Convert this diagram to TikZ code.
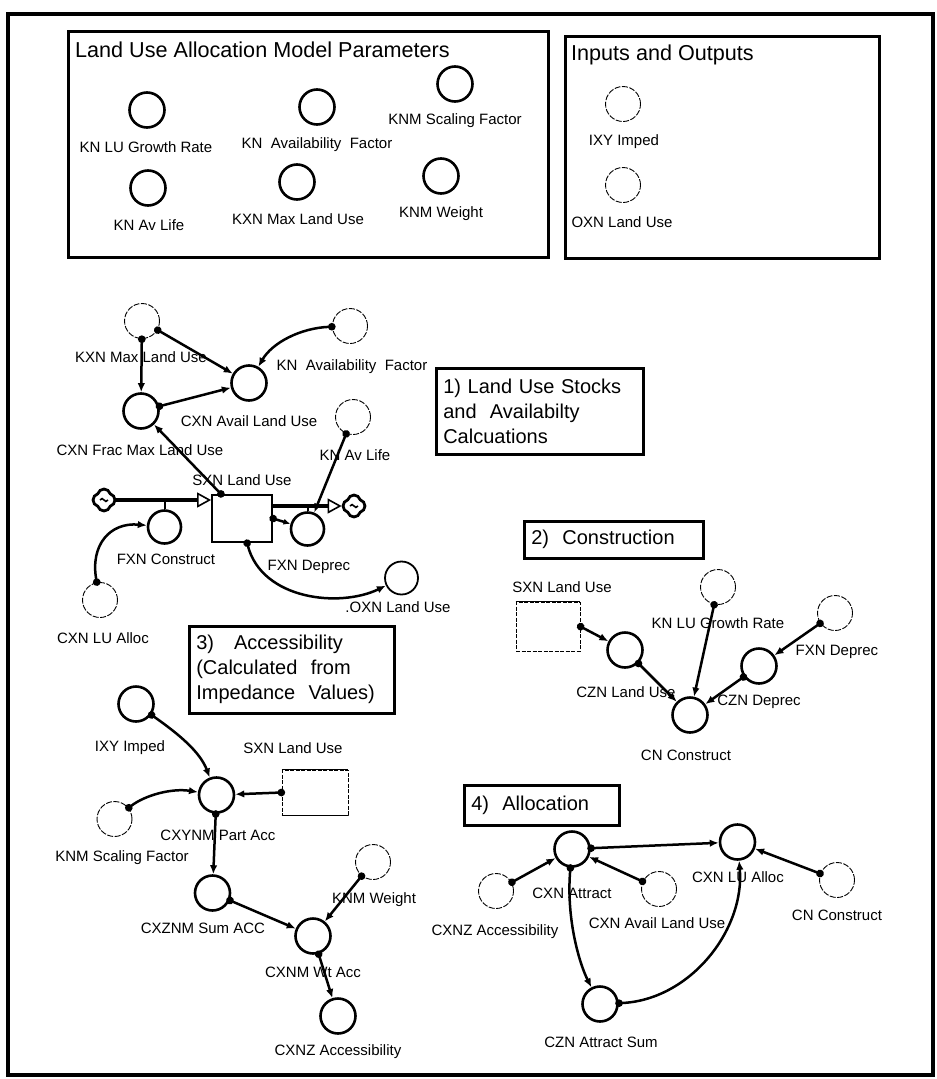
\documentclass[tikz,border=0pt]{standalone}
\usepackage{fontspec}
\setmainfont{Liberation Sans}
\usetikzlibrary{arrows.meta,shapes.symbols}
\begin{document}
\begin{tikzpicture}[x=1pt,y=-1pt,
 lbl/.style={inner sep=0pt, font=\fontsize{15}{18}\selectfont},
 hd/.style={inner sep=0pt, anchor=west, font=\fontsize{21.6}{25}\selectfont},
 aux/.style={circle, draw, line width=2.6pt, minimum size=35pt, inner sep=0pt},
 ghost/.style={circle, draw, line width=0.9pt, dash pattern=on 6pt off 1.5pt, minimum size=35pt, inner sep=0pt},
 link/.style={line width=2.5pt, shorten <=-3.5pt, {Circle[length=7.5pt]}-{Latex[length=9pt,width=7.5pt]}},
 panel/.style={draw, line width=3pt, anchor=north west, inner sep=0pt},
 secbox/.style={draw, line width=2.6pt, anchor=north west, align=left, inner sep=7pt, font=\fontsize{20}{25}\selectfont},
 stockbox/.style={draw, line width=1.8pt, inner sep=0pt},
 ghostbox/.style={draw, line width=0.8pt, dash pattern=on 4pt off 1.5pt, inner sep=0pt},
 pipe/.style={line width=4.5pt, -{Triangle[open, length=14pt, width=15pt, line width=1.6pt]}},
 cloudsym/.style={cloud, cloud puffs=4, aspect=1, shape border rotate=45, draw, line width=2.8pt, minimum width=22pt, minimum height=22pt, inner sep=0pt},
 swirl/.style={line width=1.6pt},
 stem/.style={line width=2pt}
]
\useasboundingbox (0,0) rectangle (937,1079);
\fill[white] (0,0) rectangle (937,1079);
% outer frame
\node[panel, line width=3.5pt, minimum width=925pt, minimum height=1061pt] (outer) at (6,12) {};

% ---------- Box A: parameters ----------
\node[panel, minimum width=480pt, minimum height=226pt] (boxA) at (67,30) {};
\node[hd] (tA) at (75,50) {Land Use Allocation Model Parameters};
\node[aux] (pkgr) at (147,110) {};
\node[lbl] (lpkgr) at (146,147) {KN LU Growth Rate};
\node[aux] (pkaf) at (317,107) {};
\node[lbl] (lpkaf) at (317,145) {KN\ \ Availability\ \ Factor};
\node[aux] (pkns) at (455,84) {};
\node[lbl] (lpkns) at (455,121) {KNM Scaling Factor};
\node[aux] (pkal) at (148,188) {};
\node[lbl] (lpkal) at (149,225) {KN Av Life};
\node[aux] (pkxm) at (297,182) {};
\node[lbl] (lpkxm) at (298,219) {KXN Max Land Use};
\node[aux] (pknw) at (441,176) {};
\node[lbl] (lpknw) at (441,214) {KNM Weight};

% ---------- Box B: inputs/outputs ----------
\node[panel, minimum width=314pt, minimum height=222pt] (boxB) at (564,35) {};
\node[hd] (tB) at (571,55) {Inputs and Outputs};
\node[ghost] (bixy) at (623,104) {};
\node[lbl] (lbixy) at (624,142) {IXY Imped};
\node[ghost] (boxn) at (623,185) {};
\node[lbl] (lboxn) at (622,222) {OXN Land Use};

% ---------- Section 1 ----------
\node[secbox, text width=193pt, minimum height=86pt] (box1) at (435,367)
  {1) Land Use Stocks\\and\ \ Availabilty\\Calcuations};
\node[ghost] (kxm1) at (142,321) {};
\node[lbl] (lkxm1) at (141,357) {KXN Max Land Use};
\node[ghost] (kaf1) at (350,326) {};
\node[lbl] (lkaf1) at (352,367) {KN\ \ Availability\ \ Factor};
\node[aux] (cav1) at (249,383) {};
\node[lbl] (lcav1) at (249,421) {CXN Avail Land Use};
\node[aux] (cfm1) at (141,411) {};
\node[lbl] (lcfm1) at (140,450) {CXN Frac Max Land Use};
\node[ghost] (kal1) at (353,417) {};
\node[lbl] (lkal1) at (355,455) {KN Av Life};
\node[stockbox, minimum width=60pt, minimum height=47pt] (stock1) at (242,518.5) {};
\node[lbl] (lstock1) at (242,480) {SXN Land Use};
\node[cloudsym] (cloudL) at (104,500) {};
\node[cloudsym] (cloudR) at (354,506) {};
\draw[swirl] ([xshift=-4pt]cloudL.center) .. controls ([xshift=-1pt,yshift=5pt]cloudL.center) and ([xshift=1pt,yshift=-5pt]cloudL.center) .. ([xshift=4pt]cloudL.center);
\draw[swirl] ([xshift=-4pt]cloudR.center) .. controls ([xshift=-1pt,yshift=5pt]cloudR.center) and ([xshift=1pt,yshift=-5pt]cloudR.center) .. ([xshift=4pt]cloudR.center);
\node[aux, minimum size=33pt] (fcon1) at (164.5,527) {};
\node[lbl] (lfcon1) at (166,559) {FXN Construct};
\node[aux, minimum size=33pt] (fdep1) at (307.5,529) {};
\node[lbl] (lfdep1) at (309,567) {FXN Deprec};
\node[aux, line width=1.8pt, minimum size=33pt] (oxn1) at (401.5,578) {};
\node[lbl] (loxn1) at (398,607) {.OXN Land Use};
\node[ghost] (cla1) at (100,600) {};
\node[lbl] (lcla1) at (103,638) {CXN LU Alloc};

\draw[pipe] (cloudL) -- (cloudL -| stock1.west);
\draw[pipe] (cloudR -| stock1.east) -- (cloudR);
\draw[stem] (fcon1.north) -- (fcon1.north |- cloudL);
\draw[stem] (fdep1.north) -- (fdep1.north |- cloudR);

\draw[link] (kxm1) -- (cfm1);
\draw[link] (kxm1) -- (cav1);
\draw[link] (kaf1) .. controls (300,328) and (272,343) .. (cav1);
\draw[link] (cfm1) -- (cav1);
\draw[link] ([xshift=10pt]stock1.north west) -- (cfm1);
\draw[link] (kal1) -- (fdep1);
\draw[link, {Circle[length=7.5pt]}-{Latex[length=7pt,width=6pt]}] (stock1.east) -- (fdep1);
\draw[link] ([xshift=36pt]stock1.south west) .. controls (262,600) and (340,608) .. (oxn1);
\draw[link] (cla1) .. controls (90,545) and (110,522) .. (fcon1);

% ---------- Section 2 ----------
\node[secbox, text width=165pt, minimum height=37pt] (box2) at (523,520) {2)\ \ Construction};
\node[ghostbox, minimum width=64pt, minimum height=49pt] (stock2) at (548,626.5) {};
\draw[line width=1.5pt] (stock2.north west) -- (stock2.north east);
\node[lbl] (lstock2) at (562,587) {SXN Land Use};
\node[aux] (czl2) at (625,650) {};
\node[lbl] (lczl2) at (626,692) {CZN Land Use};
\node[aux] (cnc2) at (690,715) {};
\node[lbl] (lcnc2) at (686,755) {CN Construct};
\node[ghost] (kgr2) at (718,587) {};
\node[lbl] (lkgr2) at (718,623) {KN LU Growth Rate};
\node[ghost] (fdp2) at (835,613) {};
\node[lbl] (lfdp2) at (837,652) {FXN Deprec};
\node[aux] (czd2) at (759,666) {};
\node[lbl] (lczd2) at (759,702) {CZN Deprec};

\draw[link] (stock2.east) -- (czl2);
\draw[link] (czl2) -- (cnc2);
\draw[link] (kgr2) -- (cnc2);
\draw[link] (fdp2) -- (czd2);
\draw[link] (czd2) -- (cnc2);

% ---------- Section 3 ----------
\node[secbox, text width=191pt, minimum height=87pt] (box3) at (188,625)
  {3)\ \ \ Accessibility\\(Calculated\ \ from\\Impedance\ \ Values)};
\node[aux] (ixy3) at (136,704) {};
\node[lbl] (lixy3) at (130,748) {IXY Imped};
\node[ghostbox, minimum width=66pt, minimum height=45pt] (stock3) at (315,792.5) {};
\draw[line width=1.5pt] (stock3.north west) -- (stock3.north east);
\draw[line width=1.5pt] (stock3.south west) -- (stock3.south east);
\node[lbl] (lstock3) at (293,748) {SXN Land Use};
\node[aux] (cpa3) at (216.5,795) {};
\node[lbl] (lcpa3) at (218,835) {CXYNM Part Acc};
\node[ghost] (kns3) at (114.5,819) {};
\node[lbl] (lkns3) at (122,858) {KNM Scaling Factor};
\node[aux] (csa3) at (212.5,893) {};
\node[lbl] (lcsa3) at (203,928) {CXZNM Sum ACC};
\node[aux] (cwa3) at (313,936) {};
\node[lbl] (lcwa3) at (313,972) {CXNM Wt Acc};
\node[ghost] (knw3) at (373,862) {};
\node[lbl] (lknw3) at (374,900) {KNM Weight};
\node[aux] (cxz3) at (338,1016) {};
\node[lbl] (lcxz3) at (338,1052) {CXNZ Accessibility};

\draw[link] (ixy3) .. controls (180,735) and (200,752) .. (cpa3);
\draw[link] (kns3) .. controls (145,795) and (172,788) .. (cpa3);
\draw[link] (stock3.west) -- (cpa3);
\draw[link] (cpa3) -- (csa3);
\draw[link] (csa3) -- (cwa3);
\draw[link] (knw3) -- (cwa3);
\draw[link] (cwa3) -- (cxz3);

% ---------- Section 4 ----------
\node[secbox, text width=141pt, minimum height=40pt] (box4) at (463,784) {4)\ \ Allocation};
\node[aux] (cat4) at (572,849) {};
\node[lbl] (lcat4) at (572,893) {CXN Attract};
\node[ghost] (cxz4) at (496,891) {};
\node[lbl] (lcxz4) at (495,932) {CXNZ Accessibility};
\node[ghost] (cav4) at (659,889) {};
\node[lbl] (lcav4) at (657,923) {CXN Avail Land Use};
\node[aux] (cla4) at (737.5,842) {};
\node[lbl] (lcla4) at (738,877) {CXN LU Alloc};
\node[ghost] (cnc4) at (837,880) {};
\node[lbl] (lcnc4) at (837,915) {CN Construct};
\node[aux] (cas4) at (600,1004) {};
\node[lbl] (lcas4) at (601,1042) {CZN Attract Sum};

\draw[link] (cxz4) -- (cat4);
\draw[link] (cav4) -- (cat4);
\draw[link] (cat4) -- (cla4);
\draw[link] (cnc4) -- (cla4);
\draw[link] (cat4) .. controls (566,920) and (580,965) .. (cas4);
\draw[link] (cas4) .. controls (690,1000) and (745,930) .. (cla4);
\end{tikzpicture}
\end{document}
